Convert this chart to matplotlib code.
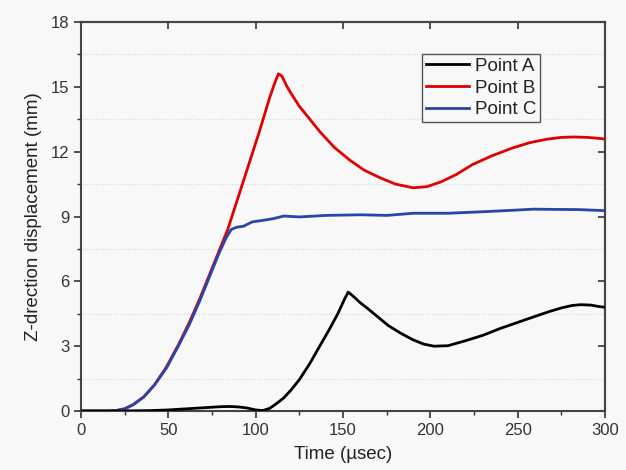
import matplotlib
matplotlib.use("Agg")
import matplotlib.pyplot as plt
from matplotlib.ticker import MultipleLocator

plt.rcParams.update({
    "font.family": ["Liberation Sans", "DejaVu Sans"],
    "font.size": 12,
    "text.color": "#222222",
    "axes.labelcolor": "#222222",
    "xtick.color": "#333333",
    "ytick.color": "#333333",
})

# Point A (black)
time_a = [0, 20, 40, 50, 60, 70, 80, 85, 90, 95, 100, 104, 108, 112, 116, 120, 125,
          131, 137, 142, 147, 151, 153, 156, 160, 164, 170, 176, 183, 190, 196, 202,
          210, 220, 230, 240, 250, 260, 268, 275, 281, 286, 292, 296, 300]
disp_a = [0, 0, 0.02, 0.05, 0.1, 0.15, 0.2, 0.21, 0.19, 0.14, 0.05, 0.02, 0.12, 0.35, 0.6, 0.95, 1.45,
          2.2, 3.05, 3.75, 4.5, 5.2, 5.5, 5.3, 5.0, 4.75, 4.35, 3.95, 3.6, 3.3, 3.1, 3.0,
          3.02, 3.25, 3.5, 3.82, 4.1, 4.38, 4.6, 4.77, 4.88, 4.92, 4.9, 4.84, 4.8]

# Point B (red)
time_b = [0, 15, 20, 25, 30, 36, 42, 49, 56, 62, 68, 74, 79, 84, 90, 96, 102, 108, 111,
          113, 115, 118, 121, 125, 130, 137, 145, 154, 162, 171, 180, 190, 198, 206,
          215, 224, 235, 247, 257, 267, 275, 282, 290, 296, 300]
disp_b = [0, 0, 0.02, 0.1, 0.3, 0.66, 1.2, 2.05, 3.1, 4.1, 5.2, 6.4, 7.4, 8.4, 9.9, 11.4, 12.9, 14.5, 15.2,
          15.6, 15.5, 15.0, 14.6, 14.1, 13.6, 12.9, 12.2, 11.6, 11.15, 10.8, 10.5, 10.33, 10.38, 10.6,
          10.95, 11.4, 11.8, 12.17, 12.42, 12.58, 12.66, 12.68, 12.66, 12.62, 12.58]

# Point C (blue)
time_c = [0, 15, 20, 25, 30, 36, 42, 49, 56, 62, 68, 74, 79, 83, 86, 89, 93, 98, 104,
          110, 116, 125, 140, 160, 175, 190, 210, 230, 245, 259, 270, 285, 300]
disp_c = [0, 0, 0.02, 0.1, 0.3, 0.66, 1.2, 2.0, 3.05, 4.0, 5.1, 6.3, 7.3, 8.0, 8.4, 8.5, 8.55, 8.75, 8.82,
          8.9, 9.02, 8.98, 9.05, 9.08, 9.05, 9.15, 9.15, 9.22, 9.28, 9.34, 9.33, 9.32, 9.27]

fig = plt.figure(figsize=(6.26, 4.70), dpi=100)
fig.patch.set_facecolor("#f8f8f8")
ax = fig.add_axes([0.1294, 0.1255, 0.8371, 0.8277])
ax.set_facecolor("#f8f8f8")

ax.plot(time_a, disp_a, color="black", lw=2.0, label="Point A", zorder=5)
ax.plot(time_b, disp_b, color="#dd0000", lw=2.0, label="Point B", zorder=4)
ax.plot(time_c, disp_c, color="#2a45a8", lw=2.0, label="Point C", zorder=4)

ax.set_xlim(0, 300)
ax.set_ylim(0, 18)
ax.xaxis.set_major_locator(MultipleLocator(50))
ax.xaxis.set_minor_locator(MultipleLocator(25))
ax.yaxis.set_major_locator(MultipleLocator(3))
ax.yaxis.set_minor_locator(MultipleLocator(1.5))
ax.tick_params(which="major", direction="out", length=5, width=1.2, labelsize=12)
ax.tick_params(which="minor", direction="out", length=3, width=1.0)

# dotted grid at the minor y positions
for yv in [1.5, 4.5, 7.5, 10.5, 13.5, 16.5]:
    ax.axhline(yv, color="#ddd4d4", lw=0.8, ls=":", zorder=0)

for sp in ax.spines.values():
    sp.set_color("#444444")
    sp.set_linewidth(1.5)

top = ax.secondary_xaxis("top")
top.xaxis.set_major_locator(MultipleLocator(50))
top.tick_params(direction="in", length=5, width=1.2, labeltop=False)
right = ax.secondary_yaxis("right")
right.yaxis.set_major_locator(MultipleLocator(3))
right.tick_params(direction="in", length=5, width=1.2, labelright=False)
for sec in (top, right):
    for sp in sec.spines.values():
        sp.set_color("#444444")
        sp.set_linewidth(1.5)

ax.set_xlabel("Time (\u00b5sec)", fontsize=13.5, labelpad=6)
ax.set_ylabel("Z-drection displacement (mm)", fontsize=13.5, labelpad=6)

leg = ax.legend(loc="upper left", bbox_to_anchor=(0.651, 0.918), fontsize=13.5,
                frameon=True, fancybox=False, edgecolor="#555555", facecolor="#f8f8f8",
                framealpha=1, borderpad=0.2, labelspacing=0.25, handlelength=2.3,
                handletextpad=0.3, borderaxespad=0)
leg.get_frame().set_linewidth(1.0)

fig.savefig("out.png", dpi=100, facecolor=fig.get_facecolor())
